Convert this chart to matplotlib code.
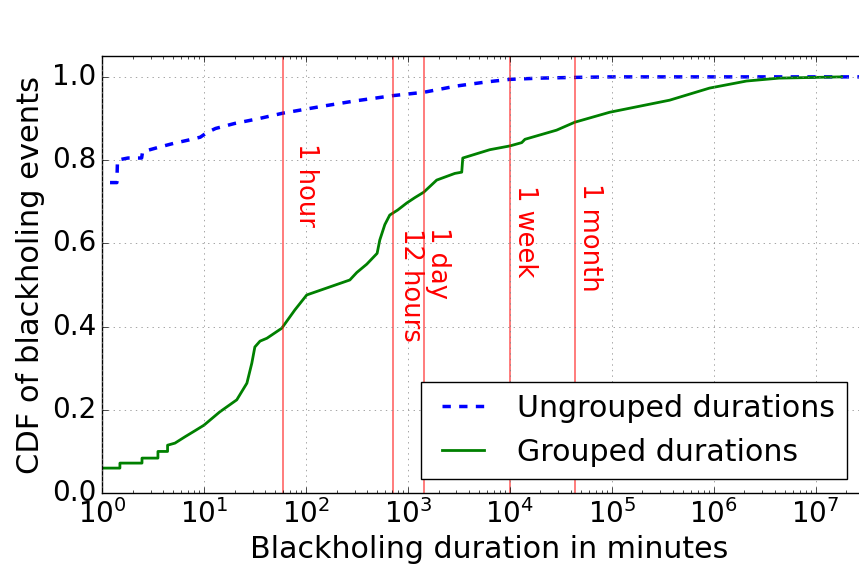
import matplotlib
matplotlib.use("Agg")
import matplotlib.pyplot as plt

# CDF of blackholing durations (minutes)
ungrouped_x = [1.2, 1.4, 1.42, 1.8, 2.45, 2.5, 3.5, 5, 7, 9.2, 10.7, 13, 20, 35, 60,
               150, 300, 720, 1440, 3000, 6000, 10000, 20000, 50000, 1e5, 1e8]
ungrouped_y = [0.746, 0.746, 0.80, 0.805, 0.805, 0.82, 0.83, 0.84, 0.848, 0.855, 0.866,
               0.876, 0.888, 0.900, 0.913, 0.930, 0.942, 0.955, 0.963, 0.978, 0.988,
               0.994, 0.997, 0.999, 1.0, 1.0]

grouped_x = [1.0, 1.5, 1.5, 2.47, 2.47, 3.54, 3.54, 4.4, 4.4, 5.2, 6.5, 8.2, 10, 14.3,
             21, 26.4, 29.5, 31.6, 35.5, 41.5, 58, 78, 102, 270, 316, 396, 500, 531,
             595, 665, 795, 977, 1175, 1435, 1920, 2890, 3380, 3460, 6370, 10000,
             13100, 14100, 28800, 43400, 95600, 3.7e5, 9.1e5, 2.1e6, 4.4e6, 1.8e7]
grouped_y = [0.06, 0.06, 0.072, 0.072, 0.084, 0.084, 0.10, 0.10, 0.115, 0.12, 0.135,
             0.15, 0.163, 0.195, 0.224, 0.264, 0.312, 0.351, 0.365, 0.372, 0.396,
             0.44, 0.476, 0.512, 0.53, 0.55, 0.576, 0.608, 0.645, 0.668, 0.68, 0.697,
             0.71, 0.723, 0.752, 0.768, 0.771, 0.805, 0.825, 0.834, 0.842, 0.85,
             0.872, 0.891, 0.915, 0.944, 0.973, 0.99, 0.997, 1.0]

marks = [60, 720, 1440, 10080, 43200]
mark_labels = ["1 hour", "12 hours", "1 day", "1 week", "1 month"]
mark_label_x = [74.6, 798, 1468, 10470, 45400]
mark_label_top = [0.841, 0.637, 0.639, 0.74, 0.745]

plt.style.use("classic")
plt.rcParams["mathtext.fontset"] = "dejavusans"
plt.rcParams["font.family"] = "DejaVu Sans"

fig = plt.figure(figsize=(8.59, 5.72), dpi=100, facecolor="white")
ax = fig.add_axes([0.1187, 0.138, 0.902, 0.764])

ax.plot(ungrouped_x, ungrouped_y, "b--", lw=2.5, label="Ungrouped durations")
ax.plot(grouped_x, grouped_y, "g-", lw=2, label="Grouped durations")

for m, lab, lx, top in zip(marks, mark_labels, mark_label_x, mark_label_top):
    ax.axvline(m, color="r", lw=1.2, alpha=0.6)
    ax.text(lx, top, lab, color="r", rotation=270, ha="left", va="top",
            fontsize=18.5)

ax.set_xscale("log")
ax.set_xlim(1, 10 ** 7.6)
ax.set_ylim(0, 1.05)
ax.set_yticks([0.0, 0.2, 0.4, 0.6, 0.8, 1.0])
ax.grid(True, color="0.5")
ax.tick_params(labelsize=20)
ax.set_xlabel("Blackholing duration in minutes", fontsize=21.6)
ax.set_ylabel("CDF of blackholing events", fontsize=22)

ax.legend(loc="lower right", bbox_to_anchor=(0.986, 0.1626),
          bbox_transform=fig.transFigure, borderaxespad=0,
          fontsize=21.6, handlelength=2)

fig.savefig("out.png", dpi=100, facecolor="white")
